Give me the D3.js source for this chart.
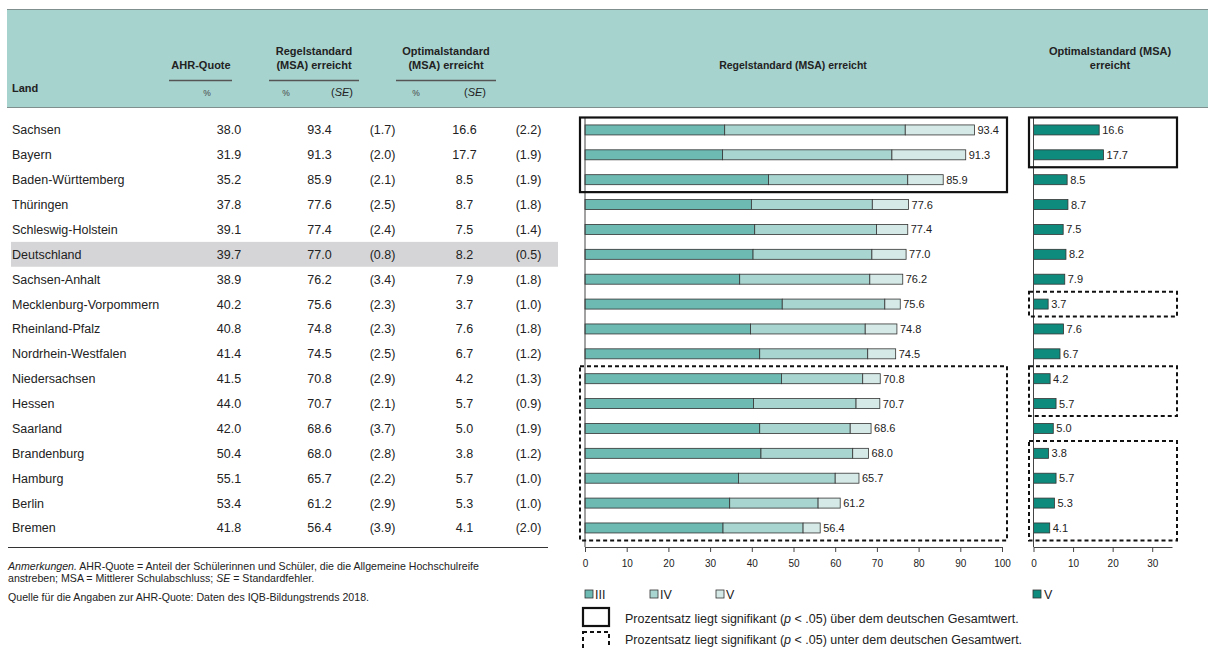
<!DOCTYPE html>
<html>
<head>
<meta charset="utf-8">
<script src="https://cdn.jsdelivr.net/npm/d3@7"></script>
<style>
  body { margin: 0; background: #fff; }
  svg { font-family: "Liberation Sans", Arial, sans-serif; display: block; }
</style>
</head>
<body>
<div id="chart"></div>
<script>
// Data

const lands = ['Sachsen', 'Bayern', 'Baden-Württemberg', 'Thüringen', 'Schleswig-Holstein', 'Deutschland',
  'Sachsen-Anhalt', 'Mecklenburg-Vorpommern', 'Rheinland-Pfalz', 'Nordrhein-Westfalen', 'Niedersachsen',
  'Hessen', 'Saarland', 'Brandenburg', 'Hamburg', 'Berlin', 'Bremen']
const ahr = [38.0, 31.9, 35.2, 37.8, 39.1, 39.7, 38.9, 40.2, 40.8, 41.4, 41.5, 44.0, 42.0, 50.4, 55.1, 53.4, 41.8]
const regel = [93.4, 91.3, 85.9, 77.6, 77.4, 77.0, 76.2, 75.6, 74.8, 74.5, 70.8, 70.7, 68.6, 68.0, 65.7, 61.2, 56.4]
const regelSE = [1.7, 2.0, 2.1, 2.5, 2.4, 0.8, 3.4, 2.3, 2.3, 2.5, 2.9, 2.1, 3.7, 2.8, 2.2, 2.9, 3.9]
const optimal = [16.6, 17.7, 8.5, 8.7, 7.5, 8.2, 7.9, 3.7, 7.6, 6.7, 4.2, 5.7, 5.0, 3.8, 5.7, 5.3, 4.1]
const optimalSE = [2.2, 1.9, 1.9, 1.8, 1.4, 0.5, 1.8, 1.0, 1.8, 1.2, 1.3, 0.9, 1.9, 1.2, 1.0, 1.0, 2.0]
// Kompetenzstufen (stacked bar)
const level3 = [33.5, 33.0, 44.0, 39.9, 40.7, 40.3, 37.1, 47.3, 39.7, 41.9, 47.1, 40.4, 41.9, 42.2, 36.8, 34.7, 33.1]
const level4 = [43.3, 40.6, 33.4, 29.0, 29.2, 28.5, 31.2, 24.6, 27.5, 25.9, 19.5, 24.6, 21.7, 22.0, 23.2, 21.2, 19.2]
const level5 = [16.6, 17.7, 8.5, 8.7, 7.5, 8.2, 7.9, 3.7, 7.6, 6.7, 4.2, 5.7, 5.0, 3.8, 5.7, 5.3, 4.1]
const levelKeys = ['III', 'IV', 'V']
const ticksLeft = [0, 10, 20, 30, 40, 50, 60, 70, 80, 90, 100]
const ticksRight = [0, 10, 20, 30]

// significance boxes: first and last land of each group
const regelBoxes = [
  { from: 'Sachsen', to: 'Baden-Württemberg', type: 'above' },
  { from: 'Niedersachsen', to: 'Bremen', type: 'below' },
]
const optimalBoxes = [
  { from: 'Sachsen', to: 'Bayern', type: 'above' },
  { from: 'Mecklenburg-Vorpommern', to: 'Mecklenburg-Vorpommern', type: 'below' },
  { from: 'Niedersachsen', to: 'Hessen', type: 'below' },
  { from: 'Brandenburg', to: 'Bremen', type: 'below' },
]

const COLORS = {
  header: '#a7d3cf',
  headerLine: '#7f8f8e',
  text: '#222',
  highlight: '#d5d5d7',
  III: '#6dbab3',
  IV: '#a9d5d0',
  V: '#d5eae7',
  opt: '#0f8b7d',
  stroke: '#333',
  axis: '#444',
}

const W = 1208
const H = 648

const svg = d3.select('#chart').append('svg').attr('width', W).attr('height', H)

// Header band

svg.append('rect').attr('x', 7).attr('y', 9).attr('width', W - 7).attr('height', 98).attr('fill', COLORS.header)
svg.append('line').attr('x1', 7).attr('x2', W).attr('y1', 9.5).attr('y2', 9.5).attr('stroke', COLORS.headerLine)
svg.append('line').attr('x1', 7).attr('x2', W).attr('y1', 107.5).attr('y2', 107.5).attr('stroke', COLORS.headerLine)

const head = svg.append('g').attr('fill', COLORS.text).attr('font-weight', 'bold').attr('font-size', 11)
head.append('text').attr('x', 12).attr('y', 92).text('Land')
head.append('text').attr('x', 201).attr('y', 69).attr('text-anchor', 'middle').text('AHR-Quote')
head.append('text').attr('x', 314).attr('y', 55).attr('text-anchor', 'middle').text('Regelstandard')
head.append('text').attr('x', 314).attr('y', 69).attr('text-anchor', 'middle').text('(MSA) erreicht')
head.append('text').attr('x', 446).attr('y', 55).attr('text-anchor', 'middle').text('Optimalstandard')
head.append('text').attr('x', 446).attr('y', 69).attr('text-anchor', 'middle').text('(MSA) erreicht')
head.append('text').attr('x', 793).attr('y', 69).attr('text-anchor', 'middle').attr('font-size', 10.5).text('Regelstandard (MSA) erreicht')
head.append('text').attr('x', 1110).attr('y', 55).attr('text-anchor', 'middle').text('Optimalstandard (MSA)')
head.append('text').attr('x', 1110).attr('y', 69).attr('text-anchor', 'middle').text('erreicht')

const underlines = [[169, 232], [269, 359], [396, 496]]
underlines.forEach(([a, b]) =>
  svg.append('line').attr('x1', a).attr('x2', b).attr('y1', 80.5).attr('y2', 80.5).attr('stroke', '#555').attr('stroke-width', 1.3),
)

const sub = svg.append('g').attr('fill', '#444').attr('font-size', 8.5).attr('text-anchor', 'middle')
;[207, 286, 416].forEach(x => sub.append('text').attr('x', x).attr('y', 96).text('%'))
;[342, 475].forEach(x => {
  const t = sub.append('text').attr('x', x).attr('y', 96).attr('font-size', 11).attr('fill', COLORS.text)
  t.append('tspan').text('(')
  t.append('tspan').attr('font-style', 'italic').text('SE')
  t.append('tspan').text(')')
})

// Rows

const y = d3.scaleBand().domain(lands).range([117.5, 540.4]).padding(0)
const yc = d => y(d) + y.bandwidth() / 2

svg.append('rect')
  .attr('x', 11).attr('y', y('Deutschland')).attr('width', 547).attr('height', y.bandwidth())
  .attr('fill', COLORS.highlight)

const fmt = d3.format('.1f')
const table = svg.append('g').attr('font-size', 12.5).attr('fill', COLORS.text)
const rows = table.selectAll('g').data(lands).join('g').attr('transform', d => `translate(0,${yc(d) + 4.5})`)
rows.append('text').attr('x', 12).text(d => d)
const cols = [
  { x: 229, get: i => fmt(ahr[i]) },
  { x: 319.5, get: i => fmt(regel[i]) },
  { x: 382.5, get: i => `(${fmt(regelSE[i])})` },
  { x: 464.5, get: i => fmt(optimal[i]) },
  { x: 528.5, get: i => `(${fmt(optimalSE[i])})` },
]
cols.forEach(c =>
  rows.append('text').attr('x', c.x).attr('text-anchor', 'middle').text((d, i) => c.get(i)),
)

svg.append('line').attr('x1', 8).attr('x2', 548).attr('y1', 547.5).attr('y2', 547.5).attr('stroke', '#333').attr('stroke-width', 1)

// Footnotes

const foot = svg.append('g').attr('font-size', 10.6).attr('fill', COLORS.text)
const f1 = foot.append('text').attr('x', 8).attr('y', 570)
f1.append('tspan').attr('font-style', 'italic').text('Anmerkungen.')
f1.append('tspan').text(' AHR-Quote = Anteil der Schülerinnen und Schüler, die die Allgemeine Hochschulreife')
const f2 = foot.append('text').attr('x', 8).attr('y', 582)
f2.append('tspan').text('anstreben; MSA = Mittlerer Schulabschluss; ')
f2.append('tspan').attr('font-style', 'italic').text('SE')
f2.append('tspan').text(' = Standardfehler.')
foot.append('text').attr('x', 8).attr('y', 601).text('Quelle für die Angaben zur AHR-Quote: Daten des IQB-Bildungstrends 2018.')

// Left chart: stacked bars

const xL = d3.scaleLinear().domain([0, 100]).range([585, 1002])
const barH = 10

const stackData = lands.map((land, i) => ({ land, III: level3[i], IV: level4[i], V: level5[i], total: regel[i] }))
const series = d3.stack().keys(levelKeys)(stackData)

const left = svg.append('g')
left.selectAll('g.series').data(series).join('g').attr('class', 'series')
  .attr('fill', s => COLORS[s.key])
  .selectAll('rect').data(s => s).join('rect')
  .attr('x', d => xL(d[0]))
  .attr('y', d => yc(d.data.land) - barH / 2)
  .attr('width', d => xL(d[1]) - xL(d[0]))
  .attr('height', barH)
  .attr('stroke', COLORS.stroke)
  .attr('stroke-width', 0.8)

left.selectAll('text.val').data(stackData).join('text').attr('class', 'val')
  .attr('x', d => xL(d.total) + 3)
  .attr('y', d => yc(d.land) + 4)
  .attr('font-size', 11).attr('fill', COLORS.text)
  .text(d => fmt(d.total))

const axisL = svg.append('g').attr('transform', 'translate(0,547)')
  .call(d3.axisBottom(xL).tickValues(ticksLeft).tickSize(5).tickSizeOuter(0).tickPadding(8))
axisL.select('.domain').attr('stroke', COLORS.axis)
axisL.selectAll('.tick line').attr('stroke', COLORS.axis)
axisL.selectAll('.tick text').attr('font-size', 10).attr('fill', COLORS.text).attr('font-family', null)
svg.append('line').attr('x1', xL(0)).attr('x2', xL(0)).attr('y1', 117).attr('y2', 547).attr('stroke', COLORS.axis)

// Right chart: Optimalstandard

const xR = d3.scaleLinear().domain([0, 35]).range([1033.5, 1172])

const right = svg.append('g')
right.selectAll('rect').data(lands).join('rect')
  .attr('x', xR(0))
  .attr('y', d => yc(d) - barH / 2)
  .attr('width', (d, i) => xR(optimal[i]) - xR(0))
  .attr('height', barH)
  .attr('fill', COLORS.opt)
  .attr('stroke', COLORS.stroke)
  .attr('stroke-width', 0.8)
right.selectAll('text').data(lands).join('text')
  .attr('x', (d, i) => xR(optimal[i]) + 3)
  .attr('y', d => yc(d) + 4)
  .attr('font-size', 11).attr('fill', COLORS.text)
  .text((d, i) => fmt(optimal[i]))

const axisR = svg.append('g').attr('transform', 'translate(0,547)')
  .call(d3.axisBottom(xR).tickValues(ticksRight).tickSize(5).tickSizeOuter(0).tickPadding(8))
axisR.select('.domain').attr('stroke', COLORS.axis)
axisR.selectAll('.tick line').attr('stroke', COLORS.axis)
axisR.selectAll('.tick text').attr('font-size', 10).attr('fill', COLORS.text).attr('font-family', null)
svg.append('line').attr('x1', xR(0)).attr('x2', xR(0)).attr('y1', 117).attr('y2', 547).attr('stroke', COLORS.axis)

// Significance boxes

function drawBoxes(boxes, x0, x1) {
  svg.append('g').selectAll('rect').data(boxes).join('rect')
    .attr('x', x0)
    .attr('y', b => y(b.from))
    .attr('width', x1 - x0)
    .attr('height', b => y(b.to) + y.bandwidth() - y(b.from))
    .attr('fill', 'none')
    .attr('stroke', '#111')
    .attr('stroke-width', b => (b.type === 'above' ? 2.2 : 2))
    .attr('stroke-dasharray', b => (b.type === 'above' ? null : '4,3'))
}
drawBoxes(regelBoxes, 580, 1007)
drawBoxes(optimalBoxes, 1029, 1177)

// Legends

const legend = svg.append('g').attr('font-size', 12.5).attr('fill', COLORS.text)
const legX = [585, 650, 716]
levelKeys.forEach((k, i) => {
  legend.append('rect').attr('x', legX[i]).attr('y', 590).attr('width', 8).attr('height', 8)
    .attr('fill', COLORS[k]).attr('stroke', COLORS.stroke).attr('stroke-width', 0.8)
  legend.append('text').attr('x', legX[i] + 10).attr('y', 599).text(k)
})
legend.append('rect').attr('x', 1033).attr('y', 590).attr('width', 8).attr('height', 8)
  .attr('fill', COLORS.opt).attr('stroke', COLORS.stroke).attr('stroke-width', 0.8)
legend.append('text').attr('x', 1044).attr('y', 599).text('V')

legend.append('rect').attr('x', 583).attr('y', 608).attr('width', 26).attr('height', 18)
  .attr('fill', 'none').attr('stroke', '#111').attr('stroke-width', 2.2)
legend.append('rect').attr('x', 583).attr('y', 632).attr('width', 26).attr('height', 17)
  .attr('fill', 'none').attr('stroke', '#111').attr('stroke-width', 2).attr('stroke-dasharray', '4,3')

const l1 = legend.append('text').attr('x', 625).attr('y', 623)
l1.append('tspan').text('Prozentsatz liegt signifikant (')
l1.append('tspan').attr('font-style', 'italic').text('p')
l1.append('tspan').text(' < .05) über dem deutschen Gesamtwert.')
const l2 = legend.append('text').attr('x', 625).attr('y', 644)
l2.append('tspan').text('Prozentsatz liegt signifikant (')
l2.append('tspan').attr('font-style', 'italic').text('p')
l2.append('tspan').text(' < .05) unter dem deutschen Gesamtwert.')
</script>
</body>
</html>
